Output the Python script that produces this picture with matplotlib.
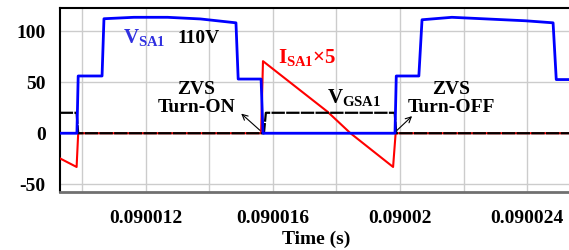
import matplotlib
matplotlib.use('Agg')
import matplotlib.pyplot as plt
from matplotlib.ticker import FixedLocator, FixedFormatter

plt.rcParams['font.family'] = ['Liberation Serif', 'DejaVu Serif']
plt.rcParams['font.weight'] = 'bold'
plt.rcParams['axes.unicode_minus'] = False
plt.rcParams['mathtext.fontset'] = 'custom'
plt.rcParams['mathtext.rm'] = 'Liberation Serif:bold'
plt.rcParams['mathtext.it'] = 'Liberation Serif:bold'
plt.rcParams['mathtext.bf'] = 'Liberation Serif:bold'

# switch voltage V_SA1 (V)
t_vsa = [0.0900093, 0.09000984, 0.09000988, 0.09001063, 0.09001069, 0.09001163,
         0.09001269, 0.09001372, 0.09001484, 0.09001491, 0.09001563, 0.09001569,
         0.09001984, 0.09001988, 0.09002059, 0.09002069, 0.09002163, 0.09002394,
         0.09002481, 0.09002491, 0.0900254]
v_sa = [0, 0, 56, 56, 112, 113.4, 113.4, 111.8, 108, 53, 53, 0,
        0, 56, 56, 111, 113.4, 110, 108, 52.5, 52.5]

# gate voltage V_GSA1
t_vgs = [0.0900093, 0.09000983, 0.09000988, 0.09001572, 0.09001578,
         0.09001983, 0.09001988, 0.0900254]
v_gs = [20, 20, 0, 0, 20, 20, 0, 0]

# switch current I_SA1 x5
t_isa = [0.0900093, 0.09000983, 0.09000988, 0.09001563, 0.09001569,
         0.09001772, 0.09001844, 0.09001978, 0.09001986, 0.0900254]
i_sa = [-24.5, -33, 0, 0, 70.5, 21, 0, -33, 0, 0]

xticks = [0.090012, 0.090016, 0.09002, 0.090024]
xtick_labels = ['0.090012', '0.090016', '0.09002', '0.090024']
xminor = [0.09001, 0.090014, 0.090018, 0.090022]
yticks = [-50, 0, 50, 100]

fig = plt.figure(figsize=(5.69, 2.5), dpi=100)
ax = fig.add_axes([0.105, 0.234, 0.9, 0.734])

ax.plot(t_isa, i_sa, color='#ff0000', lw=1.5, zorder=3)
ax.plot(t_vgs, v_gs, color='black', lw=1.6, ls=(0, (6, 0.6)), zorder=4)
ax.plot(t_vsa, v_sa, color='#0000ff', lw=2, zorder=5)

ax.set_xlim(0.0900093, 0.0900254)
ax.set_ylim(-57, 122.5)

ax.xaxis.set_major_locator(FixedLocator(xticks))
ax.xaxis.set_major_formatter(FixedFormatter(xtick_labels))
ax.xaxis.set_minor_locator(FixedLocator(xminor))
ax.set_yticks(yticks)
ax.grid(True, which='both', color='#cccccc', lw=1)
ax.set_axisbelow(True)
ax.tick_params(which='both', length=0, labelsize=14)
ax.tick_params(axis='x', pad=13)
ax.tick_params(axis='y', pad=10)
ax.set_xlabel('Time (s)', fontsize=14, fontweight='bold', labelpad=3)

ax.spines['right'].set_visible(False)
ax.spines['top'].set_linewidth(1.5)
ax.spines['left'].set_linewidth(1.5)
ax.spines['bottom'].set_color('#707070')
ax.spines['bottom'].set_linewidth(2)

ax.text(0.09001128, 88, r'$V_{SA1}$', color='#3030e0', fontsize=15, ha='left', va='baseline')
ax.text(0.090013, 88, '110V', color='black', fontsize=14, ha='left', va='baseline')
ax.text(0.09001616, 68.5, r'$I_{SA1}$' + '×5', color='#ff0000', fontsize=15, ha='left', va='baseline')
ax.text(0.0900177, 29.5, r'$V_{GSA1}$', color='black', fontsize=15, ha='left', va='baseline')
ax.text(0.0900136, 34, 'ZVS\nTurn-ON', color='black', fontsize=14, ha='center', va='center',
        linespacing=1.1)
ax.text(0.0900216, 34, 'ZVS\nTurn-OFF', color='black', fontsize=14, ha='center', va='center',
        linespacing=1.1)

ax.annotate('', xy=(0.09001494, 21), xytext=(0.09001566, 1),
            arrowprops=dict(arrowstyle='->', color='black', lw=0.8))
ax.annotate('', xy=(0.09002044, 18.6), xytext=(0.09001984, 1),
            arrowprops=dict(arrowstyle='->', color='black', lw=0.8))

fig.savefig('out.png', dpi=100)
